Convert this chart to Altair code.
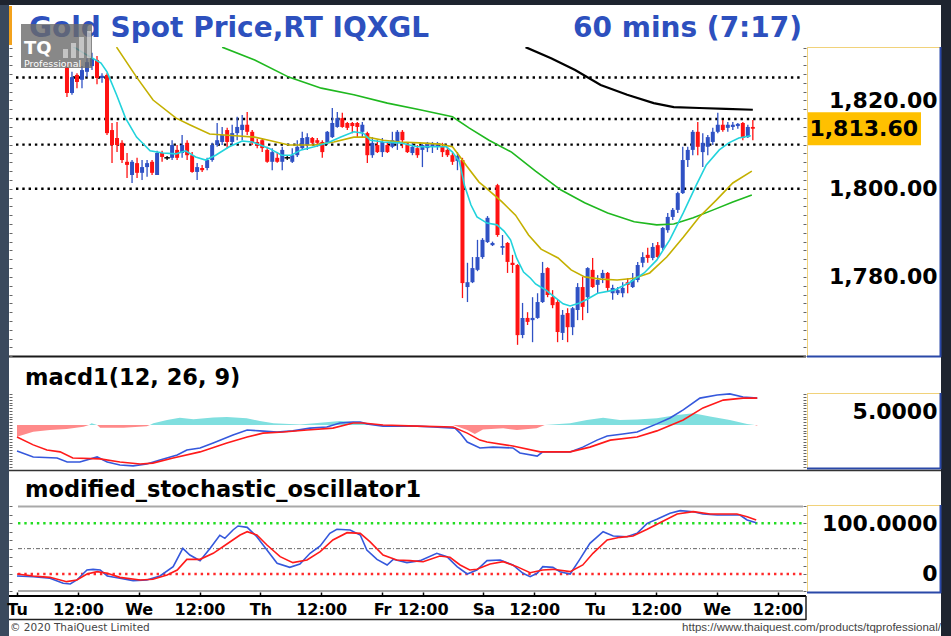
import json
import altair as alt
import pandas as pd

# ---------------- data ----------------
candle_i = list(range(9, 147))
candle_open = [
    1827.4, 1821.7, 1825.8, 1824.7, 1826.5, 1827.8, 1829.2, 1825.1, 1825.8, 1813.3,
    1811.5, 1810.4, 1806.1, 1803.1, 1805.8, 1803.6, 1804.9, 1806.1, 1803.1, 1808.1,
    1807.0, 1807.0, 1808.8, 1808.1, 1810.4, 1807.6, 1803.8, 1804.7, 1804.7, 1806.5,
    1809.9, 1810.6, 1813.3, 1810.6, 1812.6, 1813.3, 1814.5, 1812.9, 1810.6, 1811.0,
    1808.8, 1806.1, 1807.0, 1806.1, 1807.0, 1806.1, 1807.6, 1809.2, 1809.9, 1811.5,
    1811.0, 1810.6, 1810.4, 1811.7, 1814.0, 1816.0, 1814.9, 1814.9, 1814.9, 1812.9,
    1812.6, 1807.6, 1809.9, 1808.3, 1809.9, 1809.5, 1810.6, 1812.9, 1809.9, 1808.1,
    1809.2, 1808.8, 1809.2, 1809.5, 1809.7, 1809.5, 1808.8, 1807.6, 1806.3, 1806.5,
    1777.7, 1778.8, 1781.6, 1784.5, 1787.9, 1787.2, 1800.8, 1786.6, 1787.7, 1783.2,
    1782.7, 1766.8, 1770.7, 1770.2, 1770.7, 1774.3, 1782.0, 1775.4, 1774.3, 1767.3,
    1771.8, 1768.6, 1772.5, 1777.7, 1775.4, 1781.6, 1778.2, 1779.7, 1780.9, 1776.3,
    1776.3, 1776.3, 1778.8, 1777.7, 1779.3, 1783.2, 1785.0, 1784.3, 1787.2, 1786.6,
    1790.6, 1793.6, 1795.2, 1799.0, 1806.5, 1808.8, 1812.9, 1808.3, 1809.5, 1810.6,
    1812.9, 1814.5, 1813.8, 1814.0, 1814.2, 1814.9, 1811.7, 1814.0,
]
candle_high = [
    1828.7, 1826.5, 1826.2, 1827.8, 1829.6, 1830.8, 1830.1, 1826.2, 1826.2, 1814.9,
    1815.1, 1811.0, 1808.1, 1806.5, 1807.0, 1806.5, 1806.5, 1806.5, 1808.6, 1808.6,
    1807.4, 1811.0, 1809.9, 1812.2, 1811.0, 1808.3, 1805.8, 1805.4, 1807.0, 1810.4,
    1814.9, 1814.0, 1813.8, 1814.5, 1816.3, 1816.7, 1817.4, 1813.3, 1811.3, 1811.5,
    1809.5, 1809.2, 1808.3, 1809.5, 1807.4, 1809.2, 1811.0, 1812.9, 1812.6, 1811.7,
    1811.5, 1811.0, 1813.1, 1818.3, 1817.4, 1817.2, 1815.1, 1815.1, 1815.1, 1815.1,
    1812.9, 1811.7, 1811.0, 1811.5, 1810.4, 1812.9, 1813.3, 1813.3, 1810.4, 1810.4,
    1809.9, 1810.1, 1810.6, 1810.6, 1810.6, 1810.4, 1809.5, 1808.1, 1808.3, 1807.0,
    1783.2, 1784.5, 1788.4, 1788.8, 1793.8, 1788.0, 1801.1, 1789.5, 1787.9, 1785.0,
    1782.9, 1774.1, 1772.0, 1775.4, 1776.3, 1783.4, 1782.2, 1777.0, 1774.8, 1772.5,
    1772.9, 1773.2, 1778.6, 1780.0, 1782.2, 1784.3, 1780.4, 1781.6, 1781.1, 1778.2,
    1777.7, 1778.8, 1779.7, 1780.9, 1783.4, 1785.6, 1786.6, 1787.7, 1787.9, 1791.3,
    1794.5, 1795.6, 1799.3, 1809.5, 1809.5, 1813.3, 1815.1, 1812.6, 1812.2, 1813.8,
    1817.2, 1815.6, 1815.1, 1815.1, 1814.9, 1815.1, 1814.5, 1815.6,
]
candle_low = [
    1820.8, 1821.3, 1822.8, 1822.8, 1825.3, 1826.9, 1823.7, 1824.0, 1812.2, 1805.8,
    1808.3, 1805.8, 1802.4, 1801.3, 1802.4, 1802.0, 1802.7, 1803.1, 1803.1, 1806.1,
    1806.5, 1806.5, 1806.5, 1807.0, 1806.5, 1803.6, 1802.0, 1803.8, 1804.2, 1806.1,
    1809.5, 1809.9, 1809.2, 1809.9, 1811.0, 1811.0, 1812.2, 1809.9, 1809.2, 1808.3,
    1805.9, 1804.2, 1805.9, 1804.2, 1806.5, 1805.8, 1807.2, 1808.8, 1808.8, 1809.9,
    1809.5, 1807.0, 1809.9, 1811.5, 1813.8, 1813.8, 1813.3, 1812.6, 1811.7, 1811.7,
    1805.8, 1807.0, 1808.1, 1807.2, 1808.1, 1809.2, 1808.8, 1809.2, 1808.1, 1807.6,
    1807.0, 1804.9, 1808.3, 1808.1, 1808.8, 1807.2, 1807.2, 1805.4, 1804.2, 1775.2,
    1774.3, 1778.6, 1781.3, 1784.1, 1787.7, 1787.0, 1789.1, 1785.0, 1780.9, 1780.9,
    1764.6, 1766.1, 1769.1, 1765.2, 1770.5, 1774.1, 1775.4, 1772.9, 1765.2, 1765.7,
    1765.2, 1766.8, 1770.2, 1770.2, 1771.8, 1777.5, 1776.3, 1778.6, 1776.6, 1774.8,
    1775.9, 1775.4, 1776.3, 1777.5, 1778.8, 1782.2, 1783.2, 1783.8, 1784.3, 1786.1,
    1790.0, 1792.9, 1794.5, 1798.8, 1804.9, 1807.6, 1807.6, 1804.9, 1807.6, 1809.9,
    1812.6, 1812.9, 1812.9, 1813.3, 1813.6, 1811.0, 1811.5, 1811.0,
]
candle_close = [
    1821.7, 1825.3, 1824.2, 1826.9, 1828.7, 1829.6, 1825.1, 1825.6, 1812.6, 1809.9,
    1809.9, 1806.5, 1805.4, 1806.1, 1803.6, 1804.9, 1805.8, 1803.6, 1808.1, 1807.2,
    1807.0, 1809.9, 1807.0, 1809.9, 1807.6, 1803.8, 1804.9, 1804.2, 1806.5, 1809.9,
    1811.0, 1812.2, 1810.6, 1812.6, 1814.0, 1814.5, 1812.9, 1810.4, 1809.7, 1809.2,
    1806.1, 1808.3, 1806.1, 1808.8, 1807.0, 1807.6, 1809.5, 1811.5, 1811.7, 1810.4,
    1810.4, 1808.3, 1812.9, 1814.9, 1816.0, 1814.0, 1813.8, 1814.2, 1814.0, 1814.5,
    1807.6, 1810.4, 1808.3, 1810.6, 1808.3, 1811.0, 1812.9, 1811.0, 1808.3, 1809.5,
    1807.6, 1809.9, 1810.4, 1810.1, 1810.1, 1808.3, 1807.6, 1806.1, 1807.4, 1778.6,
    1778.8, 1782.0, 1784.5, 1788.4, 1793.4, 1787.7, 1789.5, 1787.0, 1783.4, 1782.7,
    1766.8, 1770.7, 1769.8, 1770.7, 1774.3, 1780.9, 1775.9, 1773.6, 1767.5, 1771.4,
    1768.6, 1772.9, 1777.7, 1773.2, 1782.0, 1777.7, 1779.3, 1780.9, 1777.5, 1777.5,
    1777.0, 1777.5, 1778.2, 1779.3, 1782.7, 1784.5, 1784.3, 1786.8, 1784.5, 1791.1,
    1793.6, 1795.2, 1799.0, 1806.5, 1808.8, 1812.9, 1809.5, 1810.4, 1811.7, 1812.9,
    1814.5, 1813.3, 1814.5, 1814.5, 1814.7, 1811.5, 1814.0, 1813.6,
]
last_price = [1813.60]
price_levels = [1825.2, 1815.8, 1810.0, 1800.0]
price_labels = [1780, 1800, 1820]

ma_cyan_i = [9.7, 13.0, 15.8, 17.0, 18.9, 20.7, 22.9, 25.6, 28.2, 30.8, 32.7, 34.7, 36.7,
             38.7, 41.4, 44.0, 46.0, 49.3, 51.9, 53.8, 55.8, 58.4, 61.1, 63.7, 66.3, 68.2,
             69.6, 72.2, 75.5, 78.9, 82.1, 84.8, 86.0, 87.4, 88.4, 89.7, 90.9, 92.9, 94.9,
             96.3, 97.6, 98.8, 100.2, 101.6, 102.6, 103.6, 104.7, 106.1, 108.1, 109.5,
             111.4, 113.0, 115.0, 118.3, 121.5, 124.3, 126.8, 129.4, 132.1, 134.7, 136.7,
             139.3, 141.2, 143.2, 145.6]
ma_cyan_v = [1832.6, 1830.3, 1828.5, 1826.5, 1821.3, 1816.0, 1811.7, 1808.6, 1808.1, 1807.9,
             1808.6, 1807.2, 1806.5, 1807.6, 1809.5, 1810.8, 1810.6, 1809.2, 1807.6, 1807.6,
             1808.8, 1809.5, 1810.4, 1811.7, 1812.9, 1812.6, 1811.0, 1810.6, 1810.4, 1809.5,
             1809.5, 1809.5, 1808.3, 1806.1, 1800.8, 1796.3, 1793.6, 1792.2, 1791.8, 1790.4,
             1788.4, 1784.3, 1781.1, 1779.7, 1778.4, 1777.7, 1777.0, 1775.7, 1773.9, 1773.4,
             1774.1, 1775.0, 1776.3, 1777.0, 1778.8, 1780.9, 1783.8, 1788.4, 1794.5, 1800.8,
             1805.4, 1808.8, 1810.4, 1811.5, 1812.0]
ma_yellow_i = [18.9, 22.9, 26.2, 30.8, 33.5, 37.5, 42.6, 46.5, 49.3, 53.3, 58.4, 62.3, 66.3,
               69.0, 72.2, 75.5, 79.5, 83.4, 86.0, 87.4, 88.8, 91.3, 92.7, 95.9, 98.6, 101.2,
               103.7, 107.1, 109.7, 112.4, 115.6, 118.9, 122.3, 125.4, 128.8, 132.1, 135.3,
               138.7, 142.0, 145.8]
ma_yellow_v = [1832.1, 1825.3, 1820.1, 1816.0, 1814.5, 1812.4, 1812.0, 1811.7, 1811.0, 1809.9,
               1809.9, 1810.6, 1811.7, 1811.7, 1811.0, 1810.6, 1810.4, 1810.1, 1809.5, 1807.4,
               1805.2, 1801.5, 1800.2, 1797.0, 1794.0, 1789.5, 1786.3, 1784.3, 1781.6, 1780.0,
               1779.5, 1779.3, 1779.7, 1780.9, 1784.5, 1789.0, 1793.6, 1797.4, 1801.3, 1804.0]
ma_green_i = [40.0, 46.5, 53.3, 59.8, 66.3, 73.0, 79.5, 86.0, 89.3, 93.3, 97.8, 102.6, 107.7,
              112.4, 117.0, 122.3, 126.8, 130.2, 134.1, 138.1, 142.0, 145.8]
ma_green_v = [1832.1, 1829.2, 1825.3, 1822.8, 1821.3, 1819.4, 1817.9, 1816.3, 1813.8, 1811.0,
              1808.3, 1804.0, 1799.7, 1796.8, 1794.5, 1792.5, 1791.8, 1792.0, 1793.4, 1795.2,
              1797.0, 1798.6]
ma_black_i = [100.6, 105.7, 110.5, 115.6, 120.9, 126.2, 130.2, 135.3, 140.6, 146.0]
ma_black_v = [1832.1, 1829.6, 1826.9, 1823.5, 1821.3, 1819.4, 1818.5, 1818.3, 1818.1, 1817.9]

macd_i = [0, 3.2, 7.9, 9.9, 12.4, 15.8, 17.8, 20.3, 22.9, 25.6, 28.2, 31.6, 33.5, 36.1, 38.7,
          42.6, 45.4, 47.9, 51.3, 54.4, 57.8, 61.1, 63.7, 66.3, 67.7, 69.0, 72.2, 75.5, 78.9,
          82.1, 86.4, 87.4, 88.8, 91.3, 93.9, 97.8, 99.2, 102.6, 103.7, 109.1, 111.6, 114.4,
          116.4, 119.5, 122.3, 126.2, 128.8, 131.4, 134.7, 138.1, 140.6, 143.2, 146.0]
macd_v = [-9.3, -11.4, -11.8, -13.2, -13.2, -11.4, -13.2, -14.3, -14.6, -13.9, -12.5, -10.7,
          -8.9, -8.2, -6.4, -3.6, -1.8, -2.1, -2.5, -2.1, -1.1, -0.7, 0.7, 1.1, 1.1, 0.4, -0.4,
          -0.4, -0.4, -0.7, -1.1, -2.9, -6.1, -8.2, -7.9, -8.2, -10.0, -11.1, -9.6, -9.6, -7.9,
          -5.4, -3.9, -3.2, -2.5, 0.4, 2.5, 5.4, 9.6, 10.7, 11.1, 10.0, 9.6]
signal_i = [0, 3.2, 5.9, 8.5, 11.0, 16.4, 20.3, 24.3, 26.8, 30.8, 36.1, 41.4, 45.4, 48.5, 52.5,
            57.2, 62.3, 66.3, 68.2, 72.2, 78.9, 86.0, 88.8, 91.3, 92.7, 97.8, 103.2, 109.1,
            113.0, 117.0, 122.3, 126.2, 131.4, 135.3, 139.3, 143.2, 146.0]
signal_v = [-4.3, -7.1, -8.9, -9.6, -11.8, -12.1, -13.2, -13.9, -13.6, -11.8, -9.6, -6.4, -4.3,
            -2.9, -2.5, -1.8, -1.1, 0.7, 0.7, 0.0, -0.4, -0.7, -2.9, -5.4, -6.1, -7.5, -9.6,
            -9.6, -7.9, -5.4, -4.3, -2.1, 1.8, 6.1, 8.9, 9.6, 9.6]
hist_i = [0, 3.2, 6.5, 9.8, 13.1, 14.2,
          14.2, 14.7, 15.8,
          15.8, 16.4, 21.0, 25.6, 26.2,
          26.2, 26.9, 29.6, 32.1, 34.8, 38.7, 41.4, 45.3, 47.9, 50.6, 55.8, 59.8, 63.7, 66.3, 69.0, 72.2,
          86.0, 88.8, 90.3, 91.9, 95.9, 98.6, 102.5, 104.1,
          104.1, 109.1, 112.4, 115.6, 118.9, 122.3, 126.2, 130.2, 133.4, 136.7, 140.6, 144.0, 145.5,
          145.5, 146.0]
hist_v = [-4.2, -2.4, -1.8, -1.4, -0.6, 0,
          0, 0.6, 0,
          0, -1.0, -1.0, -0.4, 0,
          0, 0.6, 1.8, 2.6, 2.1, 2.7, 2.9, 2.4, 1.4, 0.6, 0.2, 0.8, 1.4, 1.2, 0.6, 0,
          0, -1.8, -3.2, -1.6, -1.2, -1.8, -1.2, 0,
          0, 0.6, 1.8, 2.6, 1.8, 2.0, 2.4, 3.6, 4.2, 3.0, 1.8, 0.4, 0,
          0, -0.3]
hist_seg = [0] * 6 + [1] * 3 + [2] * 5 + [3] * 16 + [4] * 8 + [5] * 13 + [6] * 2
macd_label_values = [5]

stoch_k_i = [0, 3.2, 6.5, 9.1, 10.5, 11.8, 13.8, 15.0, 16.4, 17.8, 20.3, 22.9, 25.6, 28.2, 30.8,
             32.7, 34.1, 36.1, 38.1, 40.0, 41.0, 42.6, 43.6, 45.4, 47.3, 49.3, 51.3, 53.8, 55.8,
             57.8, 59.8, 61.7, 63.1, 65.7, 67.7, 69.0, 71.0, 73.0, 74.2, 76.9, 79.5, 82.8, 84.8,
             86.8, 88.8, 90.7, 92.7, 95.3, 97.8, 99.8, 101.2, 102.6, 103.7, 105.7, 107.1, 109.1,
             111.0, 113.0, 115.6, 117.6, 120.3, 122.3, 124.3, 126.2, 128.8, 130.8, 133.4, 135.3,
             138.1, 140.6, 142.6, 144.0, 145.8]
stoch_k_v = [-3.9, -5.3, -8.5, -18.4, -19.7, -11.8, 7.9, 9.2, 7.9, -3.9, -8.5, -13.1, -11.8, -3.9,
             14.5, 50.6, 37.5, 26.3, 50.6, 76.3, 70.3, 86.8, 94.7, 92.0, 73.6, 47.3, 21.0, 13.1,
             19.7, 40.8, 55.2, 80.2, 88.1, 86.8, 76.9, 47.3, 28.9, 17.8, 28.9, 22.4, 26.3, 40.8,
             34.2, 14.5, 0.0, 7.9, 26.3, 27.6, 17.8, 1.3, -5.3, 1.3, 14.5, 13.1, 4.6, 0.0, 28.9,
             60.5, 83.5, 75.0, 73.6, 80.2, 99.9, 107.8, 119.7, 124.9, 122.9, 118.3, 116.4, 116.4,
             116.4, 106.5, 101.2]
stoch_d_i = [0, 3.2, 6.5, 9.8, 11.8, 13.8, 15.8, 17.8, 20.3, 24.3, 26.8, 29.6, 31.6, 33.5, 36.1,
             38.7, 41.4, 44.0, 45.4, 47.3, 49.3, 51.9, 54.4, 57.2, 59.8, 62.3, 65.1, 67.7, 69.6,
             72.2, 74.9, 77.5, 80.1, 83.4, 85.4, 87.4, 89.3, 90.7, 93.3, 95.9, 98.6, 101.2, 103.7,
             105.7, 109.1, 111.6, 113.6, 116.4, 118.9, 121.5, 124.3, 126.8, 130.2, 133.4, 136.7,
             142.0, 144.0, 145.8]
stoch_d_v = [0.0, -3.9, -6.6, -15.1, -11.8, 0.0, 4.6, 1.3, -6.6, -11.8, -10.5, -2.0, 7.9, 28.9,
             28.9, 40.8, 59.2, 76.9, 83.5, 76.9, 57.2, 34.2, 22.4, 27.6, 44.0, 67.1, 81.5, 80.2,
             63.8, 37.5, 27.6, 26.3, 24.3, 35.5, 32.9, 17.8, 7.9, 9.2, 19.7, 24.3, 14.5, 2.6, 7.9,
             9.2, 4.6, 17.8, 40.8, 67.1, 72.3, 75.0, 88.1, 101.2, 118.3, 122.9, 118.3, 118.3,
             113.1, 106.5]
stoch_label_values = [100, 0]
stoch_frame_levels = [133.33, -33.33]

x_tick_pos = [0, 12, 24, 36, 48, 60, 72, 80, 92, 102, 114, 126, 138, 150]
x_tick_text = ["Tu", "12:00", "We", "12:00", "Th", "12:00", "Fr", "12:00",
               "Sa", "12:00", "Tu", "12:00", "We", "12:00"]

# ---------------- layout / style ----------------
FONT = "DejaVu Sans"
W = 797
H1, H2, H3 = 310, 113, 126
XDOM = [-1.58, 155.62]
Y1DOM = [1761.84, 1832.13]
Y2DOM = [-16.07, 24.29]
Y3DOM = [-43.4, 205.1]
UP = "#2f51c4"
DOWN = "#ff1212"
TITLE = "#2d50be"
YEL = "#f1d27a"
BBLUE = "#2a48a8"

xs = alt.Scale(domain=XDOM, nice=False, zero=False)
y1s = alt.Scale(domain=Y1DOM, nice=False, zero=False)
y2s = alt.Scale(domain=Y2DOM, nice=False, zero=False)
y3s = alt.Scale(domain=Y3DOM, nice=False, zero=False)

one = pd.DataFrame({"k": [0]})


def xq(axis=None):
    return alt.X("i:Q", scale=xs, axis=axis)


def rect(x, x2, y, y2, color, opacity=1.0):
    return alt.Chart(one).mark_rect(fill=color, opacity=opacity).encode(
        x=alt.value(x), x2=alt.value(x2), y=alt.value(y), y2=alt.value(y2))


def hrule(y, x, x2, color, w=1.0):
    return alt.Chart(one).mark_rule(color=color, strokeWidth=w).encode(
        x=alt.value(x), x2=alt.value(x2), y=alt.value(y))


def vrule(x, y, y2, color, w=1.0):
    return alt.Chart(one).mark_rule(color=color, strokeWidth=w).encode(
        x=alt.value(x), y=alt.value(y), y2=alt.value(y2))


def label(text, x, y, size, color="black", weight="bold", align="left",
          baseline="alphabetic", font=FONT):
    return alt.Chart(one).mark_text(
        text=text, font=font, fontSize=size, fontWeight=weight, color=color,
        align=align, baseline=baseline).encode(x=alt.value(x), y=alt.value(y))


def yaxis_labels(values, fmt=None, expr=None):
    kw = dict(orient="right", values=values, labelFont=FONT, labelFontSize=22,
              labelFontWeight="bold", labelColor="black", labelAlign="right",
              labelBaseline="middle", labelPadding=131, ticks=False, tickSize=0,
              domain=False, grid=False, title=None, zindex=2, labelOverlap=False,
              labelFlush=False)
    if fmt:
        kw["format"] = fmt
    if expr:
        kw["labelExpr"] = expr
    return alt.Axis(**kw)


def yaxis_ticks(values, orient):
    return alt.Axis(orient=orient, offset=-W, values=values, labels=False, ticks=True,
                    tickSize=3, tickColor="#666666", tickWidth=1, domain=False,
                    grid=False, title=None, zindex=2)


def box_borders(y0, y1):
    return [vrule(798.5, y0, y1, YEL, 1), hrule(y0 + 0.5, 798, 931, YEL, 1),
            vrule(931.5, y0, y1 + 1, BBLUE, 2), hrule(y1 + 0.5, 798, 932, BBLUE, 2)]


p1_ticks = list(range(1762, 1833, 2))
p2_ticks = list(range(-15, 12))
p3_ticks = [-33.33, -16.67, 0, 16.67, 33.33, 50, 66.67, 83.33, 100, 116.67, 133.33]

# ---------------- panel 1 : price ----------------
cdf = pd.DataFrame({"i": candle_i, "open": candle_open, "high": candle_high,
                    "low": candle_low, "close": candle_close})
cdf["dir"] = ["up" if c > o else ("down" if c < o else "flat")
              for o, c in zip(cdf["open"], cdf["close"])]
dir_color = alt.Color("dir:N", scale=alt.Scale(domain=["up", "down", "flat"],
                                               range=[UP, DOWN, "#000000"]), legend=None)

wicks = alt.Chart(cdf).mark_rule(strokeWidth=1.3, clip=True).encode(
    x=xq(), y=alt.Y("low:Q", scale=y1s, axis=yaxis_labels(price_labels, fmt=",.2f")),
    y2="high:Q", color=dir_color)
bodies = alt.Chart(cdf).mark_bar(size=4, clip=True).encode(
    x=xq(), y=alt.Y("open:Q", scale=y1s, axis=yaxis_ticks(p1_ticks, "right")),
    y2="close:Q", color=dir_color)
doji = alt.Chart(cdf).transform_filter("datum.open == datum.close").mark_point(
    shape="stroke", size=30, strokeWidth=1.5, color="black", opacity=1).encode(
    x=xq(), y=alt.Y("close:Q", scale=y1s, axis=None))


def ma_line(xi, yv, color, width, axis=None):
    df = pd.DataFrame({"i": xi, "v": yv})
    return alt.Chart(df).mark_line(color=color, strokeWidth=width, clip=True).encode(
        x=xq(), y=alt.Y("v:Q", scale=y1s, axis=axis))


levels = alt.Chart(pd.DataFrame({"p": price_levels})).mark_rule(
    color="black", strokeWidth=2.4, strokeDash=[2.4, 3.9]).encode(
    y=alt.Y("p:Q", scale=y1s, axis=None), x=alt.value(7), x2=alt.value(791))

tag_df = pd.DataFrame({"p": last_price})
tag_box = alt.Chart(tag_df).mark_point(
    shape="M-1,-0.2895L1,-0.2895L1,0.2895L-1,0.2895Z", size=114 * 114, filled=True,
    color="#ffc000", opacity=1, strokeWidth=0).encode(
    x=alt.value(855), y=alt.Y("p:Q", scale=y1s, axis=None))
tag_text = alt.Chart(tag_df).mark_text(
    font=FONT, fontSize=22, fontWeight="bold", color="black", align="right",
    baseline="middle").encode(
    x=alt.value(909), y=alt.Y("p:Q", scale=y1s, axis=None),
    text=alt.Text("p:Q", format=",.2f"))

p1_layers = [
    rect(-9, 942, -47, 589, "#1e242f"),
    rect(-9, 0, -42, 589, "#3a495d"),
    rect(0, 932, -42, 589, "#ffffff"),
    rect(0, 3, -41, -2, "#f3a21c"),
    label("Gold Spot Price,RT IQXGL", 20, -10, 28, color=TITLE),
    label("60 mins (7:17)", 564, -10, 28, color=TITLE),
    levels,
    wicks, bodies, doji,
    ma_line(ma_black_i, ma_black_v, "#000000", 2.2, yaxis_ticks(p1_ticks, "left")),
    ma_line(ma_green_i, ma_green_v, "#1fb81f", 1.6),
    ma_line(ma_yellow_i, ma_yellow_v, "#c4b000", 1.6),
    ma_line(ma_cyan_i, ma_cyan_v, "#22d3dc", 1.6),
    rect(12, 83, -23, 21, "#6a6a6a", 0.8),
    rect(54, 59, 2, 11, "#ffffff", 0.5),
    rect(62, 67, -4, 11, "#ffffff", 0.5),
    rect(70, 75, -10, 11, "#ffffff", 0.5),
    rect(78, 82, -16, 11, "#ffffff", 0.5),
    label("TQ", 15, 7, 18, color="white"),
    label("Professional", 15, 19.5, 9.5, color="white", weight="normal"),
    hrule(309.5, 0, 797, "#1a1a1a", 2),
    tag_box, tag_text,
] + box_borders(0, 309)

p1 = alt.layer(*p1_layers).properties(width=W, height=H1).resolve_axis(y="independent")

# ---------------- panel 2 : MACD ----------------
hist_df = pd.DataFrame({"i": hist_i, "v": hist_v, "seg": hist_seg})
seg_sum = hist_df.groupby("seg")["v"].sum()
hist_df["sign"] = hist_df["seg"].map(lambda s: "pos" if seg_sum[s] > 0 else "neg")
hist_df["z"] = 0.0

hist = alt.Chart(hist_df).mark_area(opacity=1, clip=True).encode(
    x=xq(),
    y=alt.Y("v:Q", scale=y2s, stack=None, axis=yaxis_labels(macd_label_values, fmt=".4f")),
    y2=alt.Y2("z:Q"),
    color=alt.Color("sign:N", scale=alt.Scale(domain=["neg", "pos"],
                                              range=["#ff8a8a", "#80dfdf"]), legend=None),
    detail="seg:N")
macd_line = alt.Chart(pd.DataFrame({"i": macd_i, "v": macd_v})).mark_line(
    color="#3558dc", strokeWidth=1.6, clip=True).encode(
    x=xq(), y=alt.Y("v:Q", scale=y2s, axis=yaxis_ticks(p2_ticks, "right")))
signal_line = alt.Chart(pd.DataFrame({"i": signal_i, "v": signal_v})).mark_line(
    color="#ff1a1a", strokeWidth=1.6, clip=True).encode(
    x=xq(), y=alt.Y("v:Q", scale=y2s, axis=yaxis_ticks(p2_ticks, "left")))

p2_layers = [hist, macd_line, signal_line,
             label("macd1(12, 26, 9)", 16, 28, 22.5)] + box_borders(36, 111)
p2 = alt.layer(*p2_layers).properties(width=W, height=H2).resolve_axis(y="independent")

# ---------------- panel 3 : stochastic ----------------
x_label_expr = f"{json.dumps(x_tick_text)}[indexof({json.dumps(x_tick_pos)}, datum.value)]"
x_label_axis = alt.Axis(orient="bottom", values=x_tick_pos, labelExpr=x_label_expr,
                        labelFont=FONT, labelFontSize=16, labelFontWeight="bold",
                        labelColor="black", labelPadding=5, ticks=False, tickSize=0,
                        domain=False, grid=False, title=None, labelFlush=False,
                        labelOverlap=False, zindex=2)
x_tick_axis = alt.Axis(orient="top", offset=-H3, values=x_tick_pos, labels=False,
                       ticks=True, tickSize=4, tickColor="black", tickWidth=1.5,
                       domain=False, grid=False, title=None, zindex=2)

frame_lines = alt.Chart(pd.DataFrame({"v": stoch_frame_levels})).mark_rule(
    color="#a9a9a9", strokeWidth=2).encode(
    y=alt.Y("v:Q", scale=y3s, axis=yaxis_ticks(p3_ticks, "left")),
    x=alt.value(9), x2=alt.value(794))


def stoch_level(v, color, width, dash):
    return alt.Chart(pd.DataFrame({"v": [v]})).mark_rule(
        color=color, strokeWidth=width, strokeDash=dash).encode(
        y=alt.Y("v:Q", scale=y3s, axis=None), x=alt.value(9), x2=alt.value(794))


k_line = alt.Chart(pd.DataFrame({"i": stoch_k_i, "v": stoch_k_v})).mark_line(
    color="#3558dc", strokeWidth=1.6, clip=True).encode(
    x=xq(x_label_axis),
    y=alt.Y("v:Q", scale=y3s, axis=yaxis_labels(
        stoch_label_values,
        expr="datum.value == 0 ? '0' : format(datum.value, '.4f')")))
d_line = alt.Chart(pd.DataFrame({"i": stoch_d_i, "v": stoch_d_v})).mark_line(
    color="#ff1a1a", strokeWidth=1.6, clip=True).encode(
    x=xq(x_tick_axis),
    y=alt.Y("v:Q", scale=y3s, axis=yaxis_ticks(p3_ticks, "right")))

p3_layers = [
    hrule(0.5, 0, 932, "#333333", 1.5),
    frame_lines,
    stoch_level(100, "#22dd22", 2.4, [2.4, 3.9]),
    stoch_level(0, "#ff2a2a", 2.4, [2.4, 3.9]),
    stoch_level(50, "#666666", 1, [4, 2, 1, 2]),
    k_line, d_line,
    label("modified_stochastic_oscillator1", 16, 27, 22.5),
    hrule(126, 0, 797, "#000000", 2),
    hrule(149.5, 0, 797, "#222222", 1.5),
    vrule(797, 126, 150, "#222222", 1.5),
    label("© 2020 ThaiQuest Limited", 1, 158, 10.5, color="#444444", weight="normal",
          baseline="middle"),
    label("https://www.thaiquest.com/products/tqprofessional/", 932, 158, 11.5,
          color="#444444", weight="normal", align="right", baseline="middle",
          font="Liberation Sans"),
] + box_borders(35, 122)
p3 = alt.layer(*p3_layers).properties(width=W, height=H3).resolve_axis(
    x="independent", y="independent")

chart = alt.vconcat(p1, p2, p3, spacing=0, bounds="flush").resolve_scale(
    x="independent", y="independent", color="independent").properties(
    padding=0, background="#1e242f").configure_view(strokeWidth=0)

chart.save("out.html", embed_options={"renderer": "svg", "actions": False})
